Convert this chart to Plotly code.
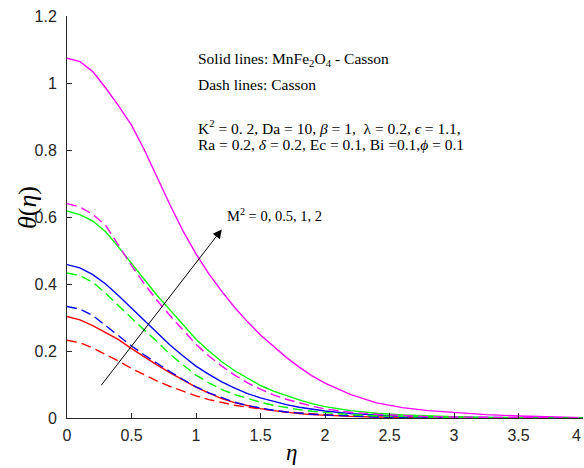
import plotly.graph_objects as go

eta = [0, 0.1, 0.2, 0.3, 0.4, 0.5, 0.6, 0.7, 0.8, 0.9, 1.0, 1.1, 1.2, 1.3, 1.4, 1.5,
       1.6, 1.7, 1.8, 1.9, 2.0, 2.2, 2.4, 2.6, 2.8, 3.0, 3.25, 3.5, 3.75, 4.0]

# Solid lines: MnFe2O4 - Casson
red_solid = [0.303, 0.293, 0.276, 0.256, 0.234, 0.207, 0.182, 0.158, 0.135, 0.113, 0.092, 0.074,
             0.058, 0.046, 0.036, 0.028, 0.022, 0.017, 0.013, 0.010, 0.008, 0.005, 0.003, 0.002,
             0.001, 0.0007, 0.0004, 0.0002, 0.0001, 0.0]
blue_solid = [0.458, 0.448, 0.428, 0.400, 0.365, 0.328, 0.290, 0.252, 0.217, 0.185, 0.155, 0.130,
              0.108, 0.089, 0.073, 0.060, 0.049, 0.040, 0.032, 0.026, 0.021, 0.013, 0.008, 0.005,
              0.003, 0.002, 0.001, 0.0005, 0.0002, 0.0]
green_solid = [0.618, 0.607, 0.588, 0.556, 0.510, 0.462, 0.415, 0.365, 0.322, 0.280, 0.235, 0.200,
               0.168, 0.141, 0.118, 0.097, 0.080, 0.066, 0.054, 0.043, 0.034, 0.022, 0.014, 0.009,
               0.006, 0.004, 0.002, 0.001, 0.0005, 0.0]
magenta_solid = [1.074, 1.064, 1.034, 0.985, 0.932, 0.874, 0.800, 0.715, 0.635, 0.558, 0.490, 0.430,
                 0.378, 0.330, 0.287, 0.248, 0.213, 0.181, 0.152, 0.126, 0.104, 0.070, 0.045, 0.031,
                 0.022, 0.016, 0.010, 0.006, 0.003, 0.001]

# Dash lines: Casson
red_dash = [0.232, 0.225, 0.209, 0.190, 0.170, 0.148, 0.128, 0.110, 0.094, 0.079, 0.066, 0.055,
            0.046, 0.038, 0.032, 0.027, 0.022, 0.018, 0.015, 0.012, 0.010, 0.007, 0.004, 0.003,
            0.002, 0.001, 0.0006, 0.0003, 0.0001, 0.0]
blue_dash = [0.333, 0.325, 0.306, 0.276, 0.244, 0.215, 0.188, 0.162, 0.138, 0.115, 0.093, 0.075,
             0.060, 0.047, 0.037, 0.029, 0.023, 0.018, 0.014, 0.011, 0.009, 0.005, 0.003, 0.002,
             0.001, 0.0008, 0.0004, 0.0002, 0.0001, 0.0]
green_dash = [0.433, 0.425, 0.405, 0.372, 0.335, 0.297, 0.262, 0.228, 0.190, 0.158, 0.128, 0.105,
              0.085, 0.070, 0.058, 0.047, 0.038, 0.031, 0.025, 0.020, 0.016, 0.010, 0.006, 0.004,
              0.002, 0.0015, 0.001, 0.0005, 0.0002, 0.0]
magenta_dash = [0.640, 0.630, 0.608, 0.575, 0.515, 0.455, 0.400, 0.350, 0.305, 0.262, 0.220, 0.185,
                0.155, 0.128, 0.105, 0.086, 0.069, 0.056, 0.045, 0.035, 0.027, 0.017, 0.011, 0.007,
                0.004, 0.003, 0.0015, 0.001, 0.0005, 0.0]

x_ticks = [0, 0.5, 1, 1.5, 2, 2.5, 3, 3.5, 4]
x_ticklabels = ["0", "0.5", "1", "1.5", "2", "2.5", "3", "3.5", "4"]
y_ticks = [0, 0.2, 0.4, 0.6, 0.8, 1.0, 1.2]
y_ticklabels = ["0", "0.2", "0.4", "0.6", "0.8", "1", "1.2"]

arrow_tail = (0.256, 0.093)
arrow_head = (1.20, 0.563)

fig = go.Figure()
series = [
    (red_solid, "#ff0000", "solid"), (blue_solid, "#0000ff", "solid"),
    (green_solid, "#00ff00", "solid"), (magenta_solid, "#ff00ff", "solid"),
    (red_dash, "#ff0000", "10px,5px"), (blue_dash, "#0000ff", "10px,5px"),
    (green_dash, "#00ff00", "10px,5px"), (magenta_dash, "#ff00ff", "10px,5px"),
]
for ys, col, dash in series:
    fig.add_trace(go.Scatter(x=eta, y=ys, mode="lines", line=dict(color=col, width=1.4, dash=dash),
                             showlegend=False, hoverinfo="skip"))

serif = "Liberation Serif"
sans = "Liberation Sans"
axcol = "#262626"
# last x tick label drawn separately (it sits on the figure edge)
x_axis_text = x_ticklabels[:-1] + [""]
fig.update_layout(
    width=584, height=468,
    margin=dict(l=67, r=1, t=16, b=50),
    paper_bgcolor="white", plot_bgcolor="white",
    xaxis=dict(range=[0, 4], tickvals=x_ticks, ticktext=x_axis_text, ticks="inside", ticklen=5,
               tickcolor=axcol, showline=True, linecolor=axcol, linewidth=1, showgrid=False,
               zeroline=False, tickfont=dict(family=sans, size=16, color=axcol),
               ticklabelstandoff=3),
    yaxis=dict(range=[0, 1.2], tickvals=y_ticks, ticktext=y_ticklabels, ticks="inside", ticklen=5,
               tickcolor=axcol, showline=True, linecolor=axcol, linewidth=1, showgrid=False,
               zeroline=False, tickfont=dict(family=sans, size=16, color=axcol),
               ticklabelstandoff=6),
)
fig.add_annotation(text=x_ticklabels[-1], x=x_ticks[-1], y=(418 - 436) / 402, xref="x", yref="paper",
                   showarrow=False, xanchor="right", yanchor="middle",
                   font=dict(family=sans, size=16, color=axcol))

def note(text, xp, yp, size=15.5, **kw):
    fig.add_annotation(text=text, x=xp, y=yp, xref="paper", yref="paper", showarrow=False,
                       font=dict(family=serif, size=size, color="black"), **kw)

def px2paper(px, py):
    return (px - 67) / 516, (418 - py) / 402

for txt, (px, py), sz in [
    ("Solid lines: MnFe<sub>2</sub>O<sub>4</sub> - Casson", (196, 60), 15.5),
    ("Dash lines: Casson", (196, 84), 15.5),
    ("K<sup>2</sup> = 0. 2, Da = 10, <i>β</i> = 1,  λ = 0.2, <i>ϵ</i> = 1.1,", (196, 127), 15.5),
    ("Ra = 0.2, <i>δ</i> = 0.2, Ec = 0.1, Bi =0.1,<i>ϕ</i> = 0.1", (196, 144), 15.5),
    ("M<sup>2</sup> = 0, 0.5, 1, 2", (225, 215), 14.5),
]:
    xp, yp = px2paper(px, py)
    note(txt, xp, yp, size=sz, xanchor="left", yanchor="middle")

xp, yp = px2paper(291, 452)
note("<i>η</i>", xp, yp, size=23, xanchor="center", yanchor="middle")
xp, yp = px2paper(27, 208)
note("<i>θ</i>(<i>η</i>)", xp, yp, size=26, xanchor="center", yanchor="middle", textangle=-90)

fig.add_annotation(x=arrow_head[0], y=arrow_head[1], ax=arrow_tail[0], ay=arrow_tail[1],
                   xref="x", yref="y", axref="x", ayref="y", text="", showarrow=True,
                   arrowhead=2, arrowsize=1.8, arrowwidth=1, arrowcolor="black")

fig.write_html("out.html")
